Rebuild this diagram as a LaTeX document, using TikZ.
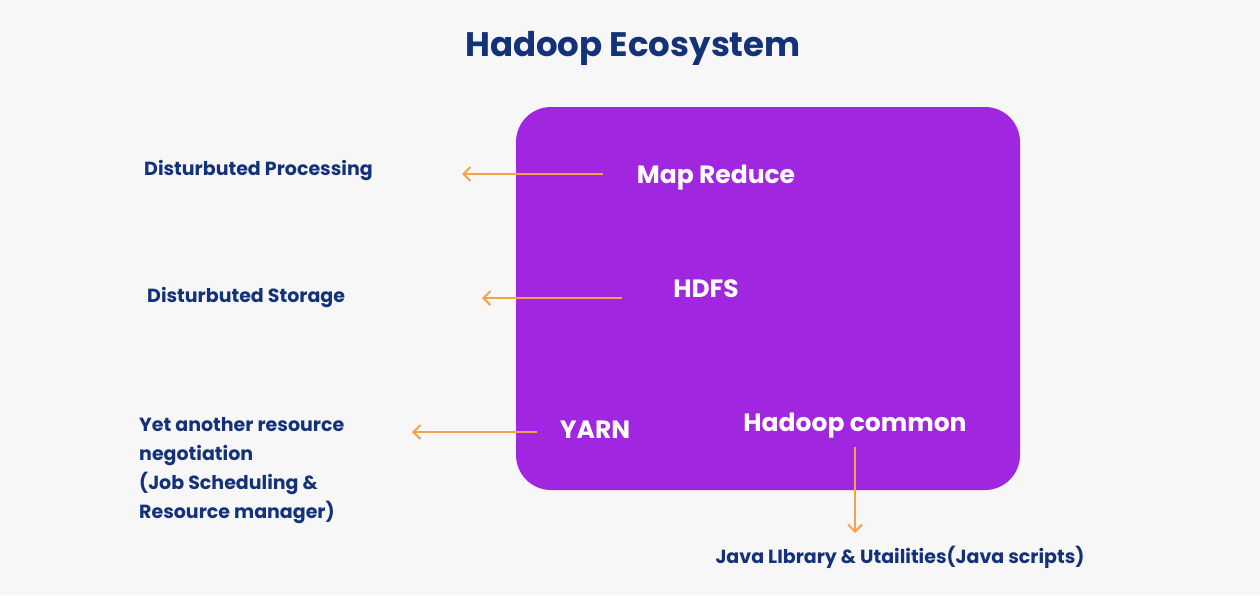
\documentclass[tikz,border=0pt]{standalone}
\usepackage{fontspec}
\setmainfont{Poppins}
\usetikzlibrary{arrows.meta}
\definecolor{bg}{HTML}{F7F7F7}
\definecolor{navy}{HTML}{14327A}
\definecolor{purp}{HTML}{A126DF}
\definecolor{orng}{HTML}{F5A04A}
\begin{document}
\begin{tikzpicture}[x=1pt,y=-1pt,
 lbl/.style={text=navy,font=\fontsize{19}{29}\selectfont\bfseries,inner sep=0},
 inl/.style={text=white,font=\fontsize{25}{30}\selectfont\bfseries,inner sep=0},
 arr/.style={draw=orng,line width=2pt,-{Straight Barb[length=7pt,width=14pt]}}]
\fill[bg] (0,0) rectangle (1260,595);
\useasboundingbox (0,0) rectangle (1260,595);
\node[text=navy,font=\fontsize{34}{40}\selectfont\bfseries] (title) at (633,48) {Hadoop Ecosystem};
\node[fill=purp,rounded corners=35pt,minimum width=504pt,minimum height=383pt,inner sep=0] (box) at (768,298.5) {};
\node[inl] (mr) at (716,178) {Map Reduce};
\node[inl] (hdfs) at (706,289) {HDFS};
\node[inl] (yarn) at (595,430) {YARN};
\node[inl] (hc) at (855,426) {Hadoop common};
\node[lbl,anchor=west] (dp) at (144,170) {Disturbuted Processing};
\node[lbl,anchor=west] (ds) at (147,297) {Disturbuted Storage};
\node[lbl,anchor=north west,align=left] (yr) at (139,417) {Yet another resource\\negotiation\\(Job Scheduling \&\\Resource manager)};
\node[lbl] (java) at (900,557) {Java LIbrary \& Utailities(Java scripts)};
\coordinate (a1) at (603,174); \coordinate (b1) at (462,174);
\coordinate (a2) at (622,298); \coordinate (b2) at (482,298);
\coordinate (a3) at (537,432); \coordinate (b3) at (412,432);
\coordinate (a4) at (855,447); \coordinate (b4) at (855,533);
\draw[arr] (a1) -- (b1);
\draw[arr] (a2) -- (b2);
\draw[arr] (a3) -- (b3);
\draw[arr] (a4) -- (b4);
\end{tikzpicture}
\end{document}
